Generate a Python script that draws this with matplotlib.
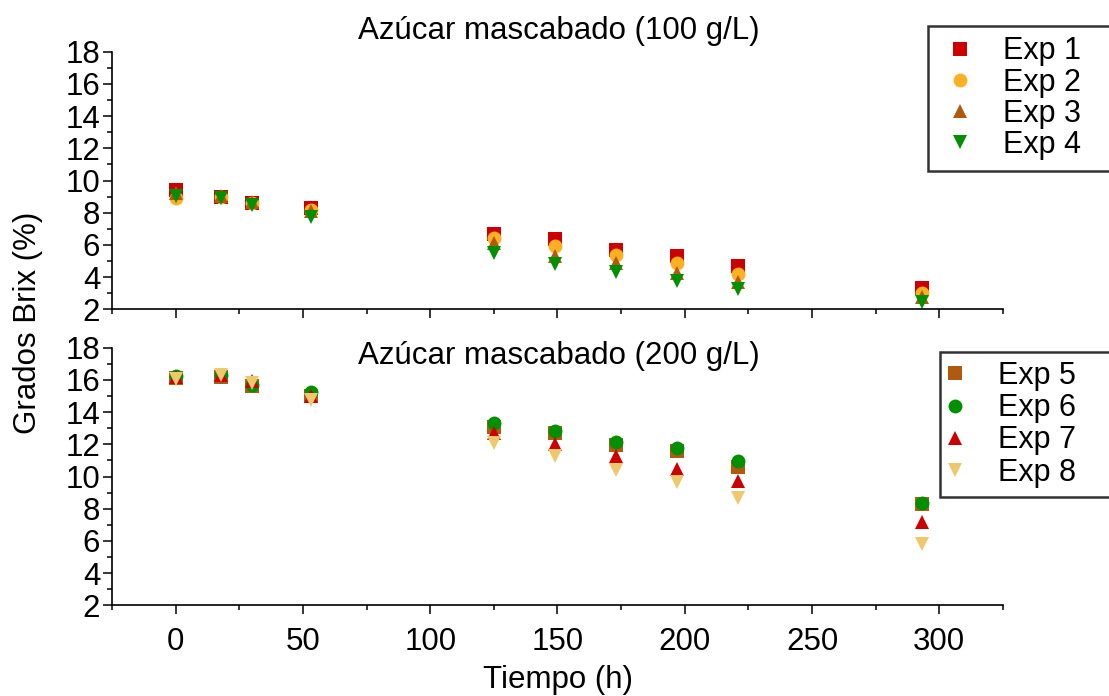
import matplotlib
matplotlib.use("Agg")
import matplotlib.pyplot as plt
from matplotlib.ticker import MultipleLocator

plt.rcParams['font.family'] = ['Liberation Sans', 'DejaVu Sans']

# Tiempo (h)
tiempo = [0, 18, 30, 53, 125, 149, 173, 197, 221, 293]

# Azúcar mascabado 100 g/L
exp1 = [9.40, 8.95, 8.58, 8.27, 6.70, 6.35, 5.68, 5.31, 4.69, 3.30]
exp2 = [8.90, 9.00, 8.62, 8.17, 6.41, 5.93, 5.35, 4.90, 4.19, 2.99]
exp3 = [9.24, 9.05, 8.68, 8.10, 6.12, 5.30, 4.90, 4.25, 3.70, 2.76]
exp4 = [9.04, 8.93, 8.50, 7.73, 5.50, 4.83, 4.32, 3.76, 3.26, 2.45]

# Azúcar mascabado 200 g/L
exp5 = [16.10, 16.20, 15.62, 15.00, 13.10, 12.68, 11.95, 11.60, 10.60, 8.30]
exp6 = [16.24, 16.30, 15.70, 15.27, 13.34, 12.85, 12.16, 11.75, 10.98, 8.37]
exp7 = [16.16, 16.30, 15.93, 15.00, 12.68, 12.02, 11.27, 10.50, 9.74, 7.15]
exp8 = [16.04, 16.30, 15.83, 14.75, 12.10, 11.27, 10.40, 9.68, 8.65, 5.80]

top_series = [(exp1, 'Exp 1', 's', '#CC0000'),
              (exp2, 'Exp 2', 'o', '#FDB022'),
              (exp3, 'Exp 3', '^', '#B05A10'),
              (exp4, 'Exp 4', 'v', '#009000')]
bot_series = [(exp5, 'Exp 5', 's', '#B05A10'),
              (exp6, 'Exp 6', 'o', '#009000'),
              (exp7, 'Exp 7', '^', '#CC0000'),
              (exp8, 'Exp 8', 'v', '#EEC86A')]

fs = 22.5
fig = plt.figure(figsize=(11.09, 6.96), dpi=100)
ax_top = fig.add_axes([0.101, 0.5556, 0.8034, 0.370])
ax_bot = fig.add_axes([0.101, 0.1303, 0.8034, 0.370])

for ax, series in [(ax_top, top_series), (ax_bot, bot_series)]:
    for vals, lab, mk, col in series:
        ax.plot(tiempo, vals, linestyle='none', marker=mk, color=col,
                markersize=10, markeredgewidth=0, label=lab, clip_on=False)
    ax.set_xlim(-25, 325)
    ax.set_ylim(2, 18)
    ax.yaxis.set_major_locator(MultipleLocator(2))
    ax.yaxis.set_minor_locator(MultipleLocator(1))
    ax.xaxis.set_major_locator(MultipleLocator(50))
    ax.xaxis.set_minor_locator(MultipleLocator(25))
    for s in ['top', 'right']:
        ax.spines[s].set_visible(False)
    for s in ['left', 'bottom']:
        ax.spines[s].set_linewidth(1.2)
    ax.tick_params(which='major', direction='out', length=6.5, width=1.1,
                   labelsize=fs, pad=2)
    ax.tick_params(axis='x', which='major', pad=9)
    ax.tick_params(which='minor', direction='out', length=3.6, width=1.1)

ax_top.tick_params(axis='x', labelbottom=False)

# legends stretch past the right edge of the figure, as in the original
leg1 = ax_top.legend(loc='upper left', mode='expand',
                     bbox_to_anchor=(0.837, 0.70, 0.2, 0.263),
                     bbox_transform=fig.transFigure, fontsize=22, numpoints=1,
                     frameon=True, fancybox=False, edgecolor='black',
                     handlelength=1.4, handletextpad=0.71, labelspacing=0.04,
                     borderpad=0.35, borderaxespad=0)
leg1.get_frame().set_linewidth(1.8)

leg2 = ax_bot.legend(loc='upper left', mode='expand',
                     bbox_to_anchor=(0.8476, 0.25, 0.2, 0.2443),
                     bbox_transform=fig.transFigure, fontsize=22, numpoints=1,
                     frameon=True, fancybox=False, edgecolor='black',
                     handlelength=0.38, handletextpad=1.22, labelspacing=0.07,
                     borderpad=0.3, borderaxespad=0)
leg2.get_frame().set_linewidth(1.8)

fig.text(0.504, 0.955, 'Azúcar mascabado (100 g/L)', ha='center', va='center',
         fontsize=fs)
fig.text(0.504, 0.489, 'Azúcar mascabado (200 g/L)', ha='center', va='center',
         fontsize=fs)
fig.text(0.503, 0.023, 'Tiempo (h)', ha='center', va='center', fontsize=fs)
fig.text(0.025, 0.536, 'Grados Brix (%)', ha='center', va='center',
         rotation=90, fontsize=fs)

fig.savefig('out.png', dpi=100)
